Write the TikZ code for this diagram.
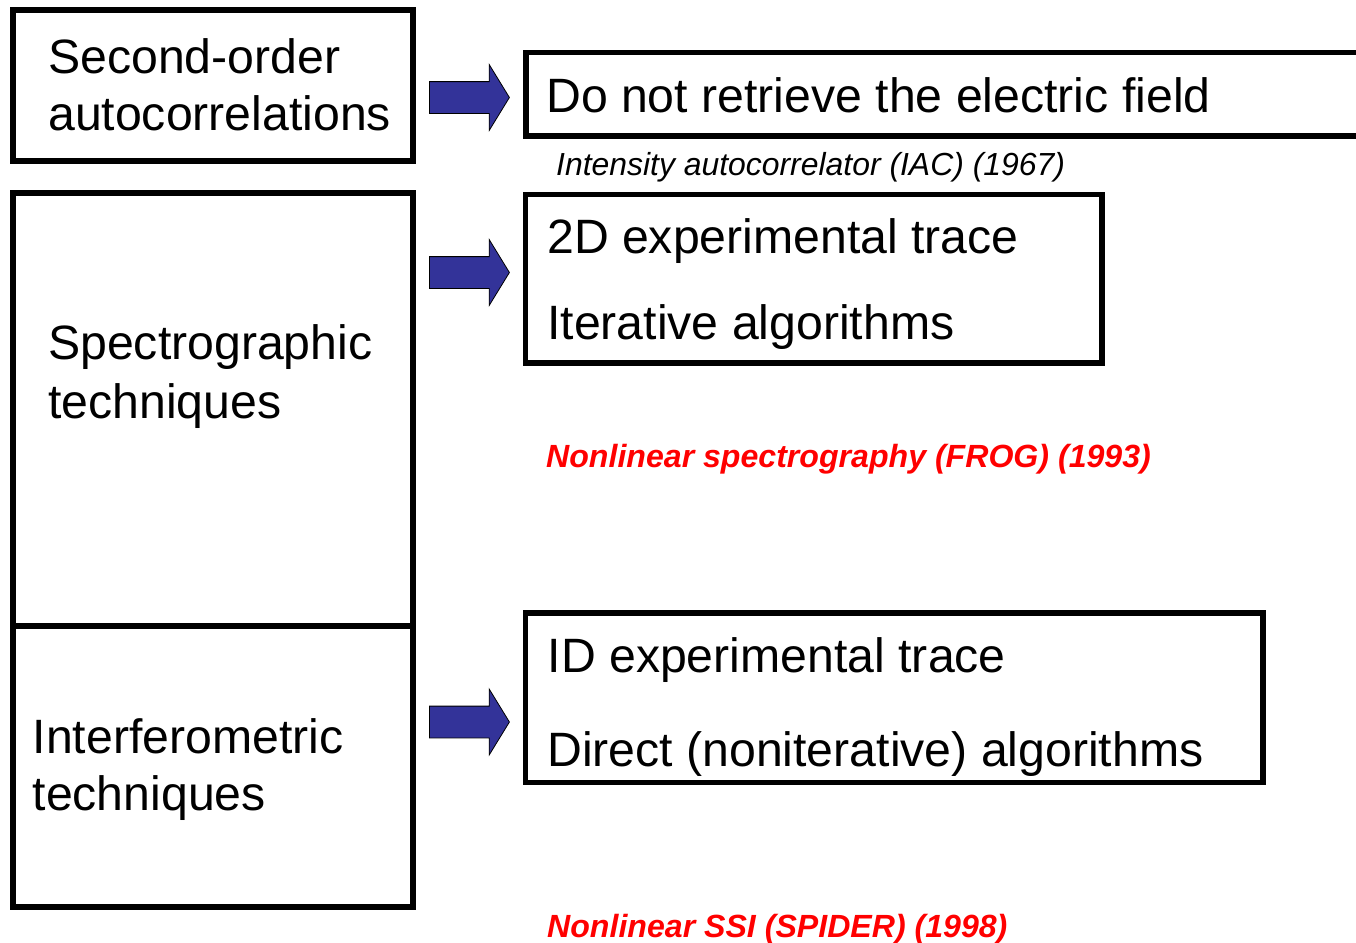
\documentclass[tikz,border=0pt]{standalone}
\usepackage{fontspec}
\setmainfont{Liberation Sans}
\usetikzlibrary{shapes.arrows}
\definecolor{arrowblue}{RGB}{51,51,153}
\begin{document}
\begin{tikzpicture}[x=1pt,y=-1pt,
  box/.style={draw=black,line width=5.5pt,rectangle,inner sep=0pt},
  big/.style={anchor=base west,inner sep=0pt,font=\fontsize{48.2}{57}\selectfont},
  note/.style={anchor=base west,inner sep=0pt,font=\fontsize{31.9}{38}\selectfont\itshape},
  rednote/.style={anchor=base west,inner sep=0pt,text=red,font=\fontsize{32.1}{38}\selectfont\bfseries\itshape},
  blockarrow/.style={single arrow,draw=black,line width=0.8pt,fill=arrowblue,
    minimum height=80pt,minimum width=65pt,inner xsep=0pt,inner ysep=15.5pt,
    single arrow head extend=17pt,single arrow tip angle=117,single arrow head indent=0pt,
    anchor=tail}]
\clip (0,0) rectangle (1356,942);
\fill[white] (0,0) rectangle (1356,942);
% left boxes
\node[box,minimum width=400pt,minimum height=151pt] (b1) at (213,85.5) {};
\node[box,minimum width=400pt,minimum height=433pt] (b2) at (213,409.5) {};
\node[box,minimum width=400pt,minimum height=281pt] (b3) at (213,766.5) {};
% right boxes
\node[box,minimum width=874pt,minimum height=83.5pt] (r1) at (963,94.25) {};
\node[box,minimum width=576.5pt,minimum height=168.5pt] (r2) at (813.75,278.75) {};
\node[box,minimum width=737.5pt,minimum height=169.5pt] (r3) at (894.25,697.75) {};
% arrows
\node[blockarrow] (a1) at (429,97.5) {};
\node[blockarrow] (a2) at (429,272.5) {};
\node[blockarrow] (a3) at (429,722) {};
% left texts
\node[big] (t1a) at (48,74) {Second-order};
\node[big] (t1b) at (48,130) {autocorrelations};
\node[big] (t2a) at (48,359) {Spectrographic};
\node[big] (t2b) at (48,418) {techniques};
\node[big] (t3a) at (32.5,753) {Interferometric};
\node[big] (t3b) at (32.5,810) {techniques};
% right texts
\node[big] (u1) at (546,112) {Do not retrieve the electric field};
\node[note] (n1) at (556,175) {Intensity autocorrelator (IAC) (1967)};
\node[big] (u2a) at (547,253) {2D experimental trace};
\node[big] (u2b) at (547,339) {Iterative algorithms};
\node[rednote] (n2) at (546,467) {Nonlinear spectrography (FROG) (1993)};
\node[big] (u3a) at (547.5,672) {ID experimental trace};
\node[big] (u3b) at (547,766) {Direct (noniterative) algorithms};
\node[rednote] (n3) at (547,937) {Nonlinear SSI (SPIDER) (1998)};
\end{tikzpicture}
\end{document}
